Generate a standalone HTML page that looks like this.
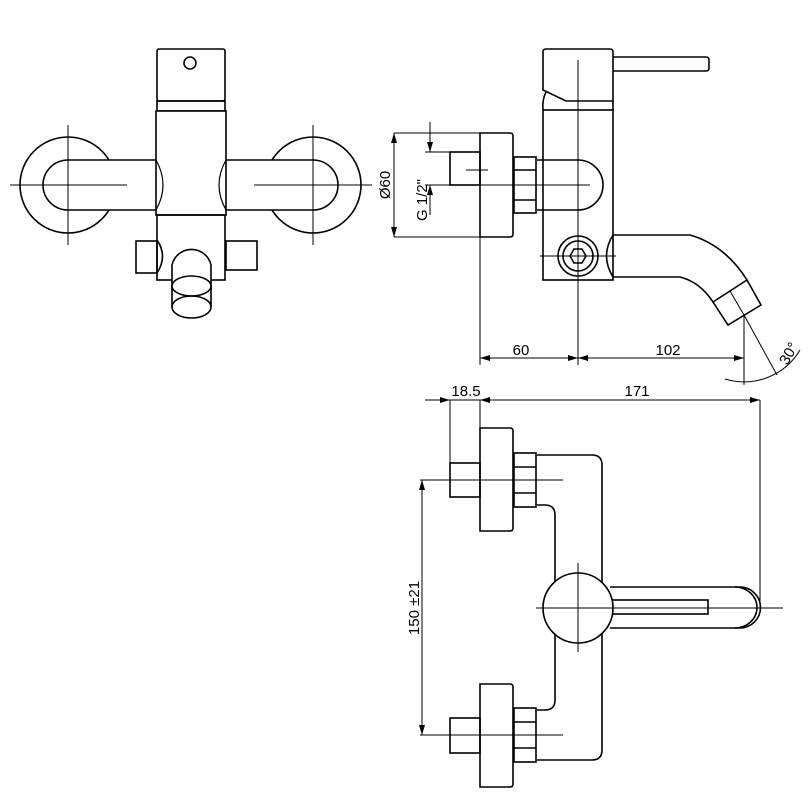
<!DOCTYPE html>
<html><head><style>body{margin:0;background:#fff}svg{display:block}</style></head><body>
<svg width="812" height="812" viewBox="0 0 812 812" xmlns="http://www.w3.org/2000/svg" font-family="Liberation Sans, sans-serif">
<defs><marker id="a" viewBox="0 0 10 6" refX="10" refY="3" markerWidth="10" markerHeight="6" orient="auto-start-reverse" markerUnits="userSpaceOnUse"><path d="M0,0L10,3L0,6z" fill="#000"/></marker></defs>
<g fill="none" stroke="#000" stroke-width="1.6">
<!-- TOP VIEW -->
<rect x="157" y="49" width="68" height="52" rx="2"/>
<circle cx="190" cy="63" r="6"/>
<rect x="157" y="101" width="68" height="10"/>
<circle cx="68" cy="185" r="48"/>
<circle cx="313" cy="185" r="48"/>
<path d="M156,160H68A25,25 0 0 0 68,210H156" fill="#fff"/>
<path d="M226,160H313A25,25 0 0 1 313,210H226" fill="#fff"/>
<rect x="156" y="111" width="70" height="104" fill="#fff"/>
<path d="M156,160Q170,185 156,210M226,160Q212,185 226,210" stroke-width="1.2"/>
<rect x="157" y="215" width="68" height="65"/>
<path d="M157,240Q168,256 157,273"/>
<rect x="136" y="241" width="21" height="32"/>
<rect x="226" y="241" width="31" height="29"/>
<path d="M172,290V265A20,20 0 0 1 211,265V290" fill="#fff"/>
<path d="M172,285V307M211,285V307"/>
<ellipse cx="191.5" cy="286" rx="19.5" ry="10" fill="#fff"/>
<ellipse cx="191.5" cy="307" rx="19.5" ry="11"/>
<!-- SIDE VIEW -->
<path d="M543,52Q543,49 546,49H610Q613,49 613,52V101H566L543,90Z"/>
<path d="M546,92Q542,100 543,110M613,101V110"/>
<path d="M613,57H706Q709,57 709,60V68Q709,71 706,71H613"/>
<rect x="543" y="110" width="70" height="170"/>
<path d="M480,133H510Q513,133 513,136V234Q513,237 510,237H480Z"/>
<rect x="450" y="152" width="30" height="33"/>
<rect x="514" y="157" width="22" height="56"/>
<path d="M514,170H536M514,200H536"/>
<path d="M537,160H578A25,25 0 0 1 578,210H537"/>
<circle cx="578" cy="256" r="20"/><circle cx="578" cy="256" r="15"/>
<path d="M570,256L574,249H582L586,256L582,263H574Z"/>
<path d="M613,235H690Q725,245 747,280M613,277H680Q700,282 713,302"/>
<path d="M613,235Q600,256 613,277"/>
<path d="M713,302L747,280L761,305L728,325Z"/>
<path d="M730,291L744,315" stroke-width="1"/>
<!-- BOTTOM VIEW -->
<path d="M480,428H510Q513,428 513,431V528Q513,531 510,531H480Z"/>
<rect x="450" y="463" width="30" height="34"/>
<rect x="514" y="453" width="22" height="54"/>
<path d="M514,467H536M514,493H536"/>
<path d="M480,684H510Q513,684 513,687V784Q513,787 510,787H480Z"/>
<rect x="450" y="718" width="30" height="35"/>
<rect x="514" y="708" width="22" height="54"/>
<path d="M514,722H536M514,748H536"/>
<path d="M537,455H592Q602,455 602,465V750Q602,760 592,760H537M537,505H545Q555,505 555,515V700Q555,710 545,710H537"/>
<path d="M610,587H740A20.5,20.5 0 0 1 740,628H610" fill="#fff"/>
<path d="M735,587A22,20.5 0 0 1 735,628"/>
<rect x="612" y="600" width="96" height="14"/>
<circle cx="578" cy="608" r="35" fill="#fff"/>
</g>
<!-- centerlines -->
<g stroke="#000" stroke-width="1" fill="none">
<path d="M10,185H127M68,125V245M254,185H372M313,125V245"/>
<path d="M578,60V365M440,185H590M540,256H616"/>
<path d="M420,480H563M420,735H563M536,608H783M578,563V652"/>
<path d="M466,170H488"/>
</g>
<!-- dimensions -->
<g stroke="#000" stroke-width="1" fill="none">
<path d="M394,133H480M394,237H480"/>
<path d="M394,133V237" marker-start="url(#a)" marker-end="url(#a)"/>
<path d="M425,152H450M425,185H450"/>
<path d="M430,122V152" marker-end="url(#a)"/><path d="M430,215V185" marker-end="url(#a)"/>
<path d="M480,237V365M744,315V385"/>
<path d="M480,358H578" marker-start="url(#a)" marker-end="url(#a)"/>
<path d="M578,358H744" marker-start="url(#a)" marker-end="url(#a)"/>
<path d="M744,315L777,375"/>
<path d="M725,379A65,65 0 0 0 800,350"/>
<path d="M450,400V463M480,400V428M760,400V608"/>
<path d="M425,400H450" marker-end="url(#a)"/>
<path d="M450,400H480"/>
<path d="M480,400H760" marker-start="url(#a)" marker-end="url(#a)"/>
<path d="M422,480V735" marker-start="url(#a)" marker-end="url(#a)"/>
</g>
<g font-size="15" fill="#000">
<text x="521" y="355" text-anchor="middle">60</text>
<text x="668" y="355" text-anchor="middle">102</text>
<text x="466" y="396" text-anchor="middle">18.5</text>
<text x="637" y="396" text-anchor="middle">171</text>
<text transform="translate(390,185) rotate(-90)" text-anchor="middle">Ø60</text>
<text transform="translate(427,200) rotate(-90)" text-anchor="middle">G  1/2"</text>
<text transform="translate(419,608) rotate(-90)" text-anchor="middle">150 ±21</text>
<text transform="translate(793,356) rotate(-60)" text-anchor="middle">30°</text>
</g>
</svg>
</body></html>
